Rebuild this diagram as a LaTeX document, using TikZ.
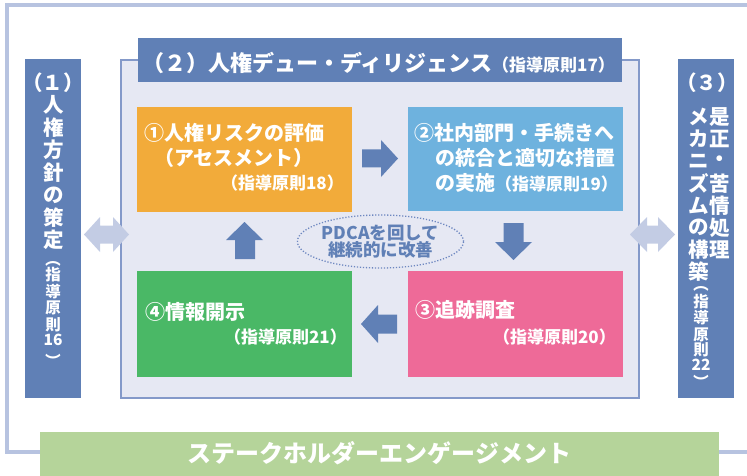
\documentclass[tikz,border=0pt]{standalone}
\usepackage{fontspec}
\setmainfont{Noto Sans CJK JP}
\usetikzlibrary{shapes.geometric}
\definecolor{dblue}{HTML}{6080B6}
\definecolor{framec}{HTML}{B7C3E0}
\definecolor{panelc}{HTML}{E6E8F3}
\definecolor{panelb}{HTML}{8499C9}
\definecolor{orng}{HTML}{F2AB3A}
\definecolor{lblue}{HTML}{6EB2DE}
\definecolor{pinkc}{HTML}{EE6A98}
\definecolor{grn}{HTML}{4AB866}
\definecolor{lgrn}{HTML}{B5D49A}
\definecolor{larr}{HTML}{C3CCE4}
\definecolor{ellc}{HTML}{6D87C0}
\tikzset{
  blk/.style={draw=none, inner sep=0, outer sep=0, anchor=north west},
  txt/.style={text=white, font=\bfseries\fontsize{20}{24}\selectfont, inner sep=0, anchor=west},
  stxt/.style={text=white, font=\bfseries\fontsize{17}{20}\selectfont, inner sep=0, anchor=east},
  colch/.style={text=white, font=\bfseries\fontsize{20.5}{22}\selectfont, inner sep=0},
  scolch/.style={text=white, font=\bfseries\fontsize{15.5}{16}\selectfont, inner sep=0},
  vopen/.style={scolch, rotate=-90},
}
\begin{document}
\begin{tikzpicture}[x=1pt,y=-1pt]
\useasboundingbox (0,0) rectangle (747,476);
\clip (0,0) rectangle (747,476);
% outer frame
\draw[framec, line width=3.5pt] (760,5) -- (7,5) -- (7,452) -- (760,452);
% bottom bar
\node[blk, fill=lgrn, minimum width=679pt, minimum height=46pt] (bar) at (40,432) {};
\node[text=white, font=\bfseries\fontsize{24}{28}\selectfont, inner sep=0] (bartxt) at (379.5,453) {ステークホルダーエンゲージメント};
% panel
\node[blk, fill=panelc, draw=panelb, line width=1.2pt, minimum width=518pt, minimum height=338pt] (panel) at (121,60) {};
% title bar
\node[blk, fill=dblue, minimum width=484pt, minimum height=44pt] (tbar) at (138,38) {};
\node[text=white, font=\bfseries\fontsize{22}{24}\selectfont, inner sep=0, anchor=west] (ttxt) at (142,63) {（２）人権デュー・ディリジェンス{\fontsize{17}{20}\selectfont（指導原則17）}};
% side columns
\node[blk, fill=dblue, minimum width=56pt, minimum height=339pt] (lcol) at (25,59) {};
\node[blk, fill=dblue, minimum width=56pt, minimum height=339pt] (rcol) at (678,59) {};
% left column text
\node[colch] (l0) at (53,83) {（１）};
\foreach \c [count=\i] in {人,権,方,針,の,策,定}
  \node[colch] (l\i) at (54,{105+22.5*(\i-1)}) {\c};
\node[vopen] (lp1) at (53,259) {（};
\foreach \c/\yy [count=\i] in {指/275,導/292,原/308,則/325,16/340}
  \node[scolch] (ls\i) at (53,\yy) {\c};
\node[vopen] (lp2) at (53,361) {）};
% right column text
\node[colch] (r0) at (707,83) {（３）};
\foreach \c [count=\i] in {是,正,・,苦,情,処,理}
  \node[colch] (rr\i) at (720,{117+22.17*(\i-1)}) {\c};
\foreach \c [count=\i] in {メ,カ,ニ,ズ,ム,の,構,築}
  \node[colch] (rl\i) at (699,{117+22.14*(\i-1)}) {\c};
\node[vopen] (rp1) at (701,284) {（};
\foreach \c/\yy [count=\i] in {指/302,導/318,原/335,則/350,22/365}
  \node[scolch] (rs\i) at (701,\yy) {\c};
\node[vopen] (rp2) at (701,382) {）};
% double arrows
\fill[larr] (84,234.5) -- (100,217) -- (100,225.5) -- (113,225.5) -- (113,217) -- (129,234.5) -- (113,252) -- (113,243.5) -- (100,243.5) -- (100,252) -- cycle;
\fill[larr] (630,234.5) -- (647,217) -- (647,225.5) -- (658,225.5) -- (658,217) -- (675,234.5) -- (658,252) -- (658,243.5) -- (647,243.5) -- (647,252) -- cycle;
% step boxes
\node[blk, fill=orng, minimum width=215pt, minimum height=105pt] (b1) at (137,107) {};
\node[blk, fill=lblue, minimum width=215pt, minimum height=104pt] (b2) at (408,107) {};
\node[blk, fill=pinkc, minimum width=215pt, minimum height=106pt] (b3) at (408,271) {};
\node[blk, fill=grn, minimum width=215pt, minimum height=106pt] (b4) at (137,271) {};
% block arrows
\fill[dblue] (362,149.5) -- (381,149.5) -- (381,140) -- (398,158.5) -- (381,177) -- (381,167.5) -- (362,167.5) -- cycle;
\fill[dblue] (503.5,223) -- (523.5,223) -- (523.5,242) -- (532,242) -- (513.5,260) -- (495,242) -- (503.5,242) -- cycle;
\fill[dblue] (235,259) -- (255,259) -- (255,240) -- (263,240) -- (244.5,222) -- (226,240) -- (235,240) -- cycle;
\fill[dblue] (397,314.5) -- (378,314.5) -- (378,305) -- (361,324) -- (378,343) -- (378,333.5) -- (397,333.5) -- cycle;
% PDCA ellipse
\node[ellipse, draw=ellc, line width=1.3pt, dash pattern=on 1.2pt off 1.8pt, minimum width=155pt, minimum height=53pt, inner sep=0, text=dblue, font=\bfseries\fontsize{17.5}{17}\selectfont, align=center] (pdca) at (380.5,241.5) {PDCAを回して\\継続的に改善};
% box texts
\node[txt] (t1a) at (144,133) {①人権リスクの評価};
\node[txt] (t1b) at (154,158) {（アセスメント）};
\node[stxt] (t1c) at (344,183) {（指導原則18）};
\node[txt] (t2a) at (414,133) {②社内部門・手続きへ};
\node[txt] (t2b) at (435,158) {の統合と適切な措置};
\node[txt] (t2c) at (435,183) {の実施{\fontsize{17}{20}\selectfont（指導原則19）}};
\node[txt] (t3a) at (415,310) {③追跡調査};
\node[stxt] (t3b) at (616,337) {（指導原則20）};
\node[txt] (t4a) at (145,312) {④情報開示};
\node[stxt] (t4b) at (347,337) {（指導原則21）};
\end{tikzpicture}
\end{document}
